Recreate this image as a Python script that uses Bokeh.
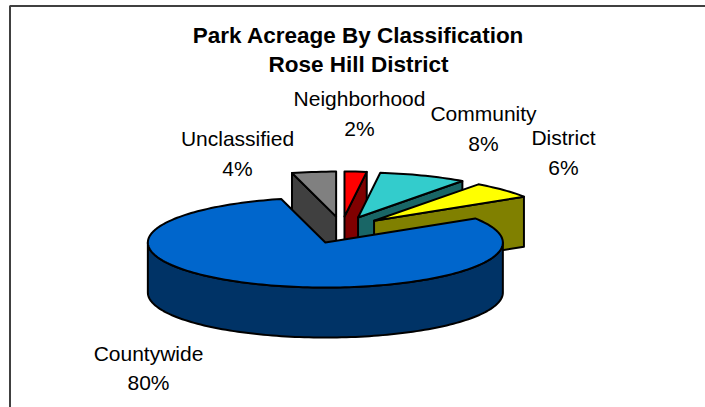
import math
from bokeh.plotting import figure
from bokeh.models import Range1d
from bokeh.core.properties import value
from bokeh.embed import file_html
from bokeh.resources import INLINE

# Data
title_lines = ["Park Acreage By Classification", "Rose Hill District"]
categories = ["Neighborhood", "Community", "District", "Countywide", "Unclassified"]
percents = [2, 8, 6, 80, 4]

# Style
top_colors = ["#FF0000", "#33CCCC", "#FFFF00", "#0066CC", "#808080"]
side_colors = ["#800000", "#196666", "#808000", "#003366", "#404040"]
draw_order = ["Unclassified", "Neighborhood", "Community", "District", "Countywide"]

# Layout of the projected pie, in page pixels
CX, CY = 341.2, 229.5
RX, RY = 177.5, 45.0
DEPTH = 50.0
EX, EY = 44.4, 13.5
label_pos = {
    "Neighborhood": (359, 98, 128),
    "Community": (483, 113, 143),
    "District": (563, 137, 167),
    "Countywide": (148, 353, 382),
    "Unclassified": (237, 138, 168),
}
title_pos = [(358, 35), (358, 64)]

p = figure(width=705, height=407, x_range=Range1d(0, 705), y_range=Range1d(407, 0),
           output_backend="svg", toolbar_location=None, min_border=0,
           outline_line_color=None, background_fill_color="white", border_fill_color="white")
p.axis.visible = False
p.grid.visible = False

# Frame, only its top and left edges are in view
p.line([9.5, 9.5, 705], [407, 5.5, 5.5], line_color="#404040", line_width=2)

# Slice angles, clockwise from the top
total = sum(percents)
angles = {}
acc = 0
for name, v in zip(categories, percents):
    a0 = 2 * math.pi * acc / total
    acc += v
    angles[name] = (a0, 2 * math.pi * acc / total)


def pt(ax, ay, t, dz=0.0):
    return ax + RX * math.sin(t), ay - RY * math.cos(t) + dz


def arc(ax, ay, t0, t1, dz=0.0):
    n = max(2, int(abs(t1 - t0) / math.radians(1.5)))
    return [pt(ax, ay, t0 + (t1 - t0) * i / n, dz) for i in range(n + 1)]


OUT = dict(line_color="black", line_width=2, line_join="round")

for name in draw_order:
    i = categories.index(name)
    t0, t1 = angles[name]
    mid = (t0 + t1) / 2
    ax, ay = CX + EX * math.sin(mid), CY - EY * math.cos(mid)
    side = side_colors[i]
    faces = []
    # radial faces turned to the viewer
    for t, visible in ((t0, math.sin(t0) < -1e-6), (t1, math.sin(t1) > 1e-6)):
        if visible:
            ox, oy = pt(ax, ay, t)
            faces.append([(ax, ay), (ox, oy), (ox, oy + DEPTH), (ax, ay + DEPTH)])
    # front part of the rim
    lo, hi = max(t0, math.pi / 2), min(t1, 3 * math.pi / 2)
    if hi > lo:
        faces.append(arc(ax, ay, lo, hi) + arc(ax, ay, hi, lo, DEPTH))
    for f in faces:
        p.patch([q[0] for q in f], [q[1] for q in f], fill_color=side, **OUT)
    top = [(ax, ay)] + arc(ax, ay, t0, t1)
    p.patch([q[0] for q in top], [q[1] for q in top], fill_color=top_colors[i], **OUT)

# Labels
for name, v in zip(categories, percents):
    x, y1, y2 = label_pos[name]
    p.text([x, x], [y1, y2], text=[name, f"{v}%"], text_align="center", text_baseline="middle",
           text_font=value("Liberation Sans"), text_font_size="21px", text_color="black")

for line, (x, y) in zip(title_lines, title_pos):
    p.text([x], [y], text=[line], text_align="center", text_baseline="middle",
           text_font=value("Liberation Sans"), text_font_style="bold",
           text_font_size="22.5px", text_color="black")

open("out.html", "w").write(file_html(p, INLINE))
